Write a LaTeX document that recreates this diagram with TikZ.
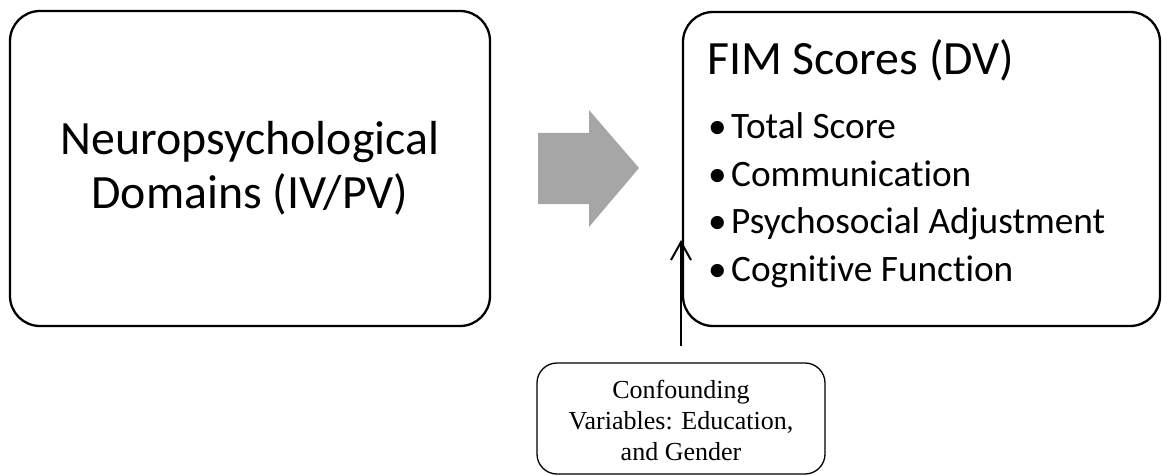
\documentclass[tikz,border=0pt]{standalone}
\usepackage{fontspec}
\setmainfont[RawFeature=-liga]{Carlito}
\newfontfamily\serifnr{Liberation Serif}
\usetikzlibrary{arrows.meta}
\definecolor{arrowgray}{HTML}{A6A6A6}
\begin{document}
\begin{tikzpicture}[x=1pt,y=-1pt,
  bigbox/.style={draw=black, line width=2.3pt, rounded corners=30pt, inner sep=0pt},
  smallbox/.style={draw=black, line width=1.3pt, rounded corners=20pt, inner sep=0pt},
  bigtext/.style={font=\fontsize{47.8}{53}\selectfont},
  bullettext/.style={anchor=base west, inner sep=0pt, font=\fontsize{37.3}{48}\selectfont},
  conn/.style={draw=black, line width=2pt, -{Straight Barb[length=18pt,width=20pt,line width=2pt]}}]
\useasboundingbox (0,0) rectangle (1162,476);
% left box
\node[bigbox, minimum width=480pt, minimum height=315pt] (iv) at (250,168.5) {};
\node[bigtext, anchor=base, inner sep=0pt] (iv1) at (250,155) {Neuropsychological};
\node[bigtext, anchor=base, inner sep=0pt] (iv2) at (250,208) {Domains (IV/PV)};
% right box
\node[bigbox, minimum width=477pt, minimum height=314pt] (dv) at (921.5,169) {};
\node[bigtext, anchor=base west, inner sep=0pt] (title) at (707,75) {FIM Scores (DV)};
\node[bullettext] (b1) at (708,138.3) {\makebox[23pt][l]{•}Total Score};
\node[bullettext] (b2) at (708,186.7) {\makebox[23pt][l]{•}Communication};
\node[bullettext] (b3) at (708,233.3) {\makebox[23pt][l]{•}Psychosocial Adjustment};
\node[bullettext] (b4) at (708,281.7) {\makebox[23pt][l]{•}Cognitive Function};
% big gray arrow
\fill[arrowgray] (538,133) -- (589,133) -- (589,110) -- (639,168) -- (589,227) -- (589,204) -- (538,204) -- cycle;
% confounding box
\node[smallbox, minimum width=288pt, minimum height=111pt] (conf) at (681,418.5) {};
\node[font=\serifnr\fontsize{26}{31}\selectfont, anchor=base, inner sep=0pt] (cf1) at (681,398) {Confounding};
\node[font=\serifnr\fontsize{26}{31}\selectfont, anchor=base, inner sep=0pt] (cf2) at (681,429) {Variables: Education,};
\node[font=\serifnr\fontsize{26}{31}\selectfont, anchor=base, inner sep=0pt] (cf3) at (681,460) {and Gender};
\coordinate (tip) at (681,240);
\draw[conn] ([yshift=16pt]conf.north) -- (tip);
\end{tikzpicture}
\end{document}
